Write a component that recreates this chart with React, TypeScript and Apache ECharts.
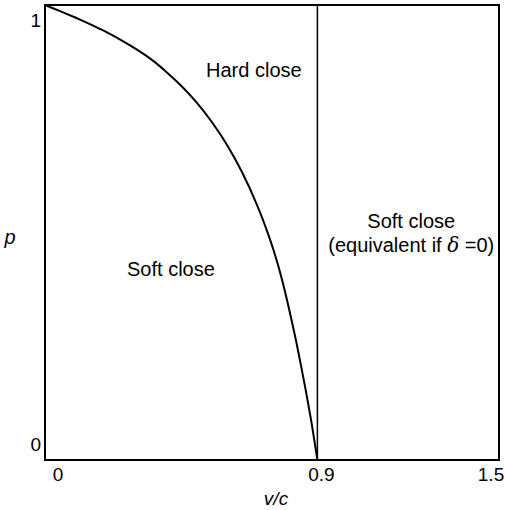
import React, { useEffect, useRef } from "react";
import * as echarts from "echarts";

const curveX = [0, 0.05, 0.1, 0.15, 0.2, 0.25, 0.3, 0.35, 0.4, 0.45, 0.5, 0.55, 0.6, 0.65, 0.7, 0.74, 0.77, 0.8, 0.83, 0.86, 0.88, 0.9];
const curveY = [1, 0.9865, 0.9725, 0.9575, 0.9415, 0.9235, 0.9035, 0.881, 0.8535, 0.8225, 0.7865, 0.744, 0.694, 0.634, 0.5615, 0.4915, 0.4285, 0.3505, 0.2605, 0.1585, 0.0845, 0];
const boundaryX = 0.9;
const xTicks = [0, 0.9, 1.5];
const xTickLabels = ["0", "0.9", "1.5"];
const yTicks = [1, 0];
const yTickLabels = ["1", "0"];
const regionLabels = ["Hard close", "Soft close", "Soft close", "(equivalent if {i|δ} =0)"];
const regionX = [0.69, 0.416, 1.21, 1.21];
const regionY = [0.857, 0.42, 0.525, 0.472];

const FONT = "'Liberation Sans', Arial, sans-serif";

export default function App() {
  const ref = useRef<HTMLDivElement>(null);
  useEffect(() => {
    if (!ref.current) return;
    const chart = echarts.init(ref.current, undefined, { renderer: "svg" });
    const curve = curveX.map((x, i) => [x, curveY[i]]);
    chart.setOption({
      animation: false,
      backgroundColor: "#fff",
      grid: { left: 45, top: 5, right: 6, bottom: 50, show: true, borderColor: "#000", borderWidth: 2, backgroundColor: "transparent" },
      xAxis: {
        type: "value", min: 0, max: 1.5,
        axisLine: { show: false }, axisTick: { show: false }, axisLabel: { show: false }, splitLine: { show: false },
      },
      yAxis: {
        type: "value", min: 0, max: 1,
        axisLine: { show: false }, axisTick: { show: false }, axisLabel: { show: false }, splitLine: { show: false },
      },
      series: [
        {
          type: "line", data: curve, showSymbol: false, smooth: 0.2,
          lineStyle: { color: "#000", width: 2 }, silent: true,
        },
        {
          type: "line", data: [[boundaryX, 0], [boundaryX, 1]], showSymbol: false,
          lineStyle: { color: "#000", width: 1.5 }, silent: true,
        },
      ],
    });
    const px = (x: number, y: number) => chart.convertToPixel({ gridIndex: 0 }, [x, y]) as number[];
    const elements: any[] = [];
    const xOff = [13, 4, -8];
    xTicks.forEach((v, i) => {
      const p = px(v, 0);
      elements.push({
        type: "text", x: p[0] + xOff[i], y: p[1] + 14,
        style: { text: xTickLabels[i], font: `19px ${FONT}`, fill: "#000", align: "center", verticalAlign: "middle" },
      });
    });
    const yOff = [15, -16];
    yTicks.forEach((v, i) => {
      const p = px(0, v);
      elements.push({
        type: "text", x: p[0] - 4, y: p[1] + yOff[i],
        style: { text: yTickLabels[i], font: `19px ${FONT}`, fill: "#000", align: "right", verticalAlign: "middle" },
      });
    });
    regionLabels.forEach((t, i) => {
      const p = px(regionX[i], regionY[i]);
      elements.push({
        type: "text", x: p[0], y: p[1],
        style: {
          text: t, font: `20px ${FONT}`, fill: "#000", align: "center", verticalAlign: "middle",
          rich: { i: { fontStyle: "italic", fontSize: 20, fontFamily: "'DejaVu Serif', serif", fill: "#000" } },
        },
      });
    });
    const mid = px(0.75, 0.5);
    const bottom = px(0.75, 0);
    elements.push({
      type: "text", x: mid[0] + 4, y: bottom[1] + 38,
      style: { text: "v/c", font: `italic 19px ${FONT}`, fill: "#000", align: "center", verticalAlign: "middle" },
    });
    elements.push({
      type: "text", x: 10, y: mid[1] + 4,
      style: { text: "p", font: `italic 20px ${FONT}`, fill: "#000", align: "center", verticalAlign: "middle" },
    });
    chart.setOption({ graphic: elements });
    return () => chart.dispose();
  }, []);
  return <div ref={ref} style={{ position: "fixed", left: 0, top: 0, width: 505, height: 510 }} />;
}
